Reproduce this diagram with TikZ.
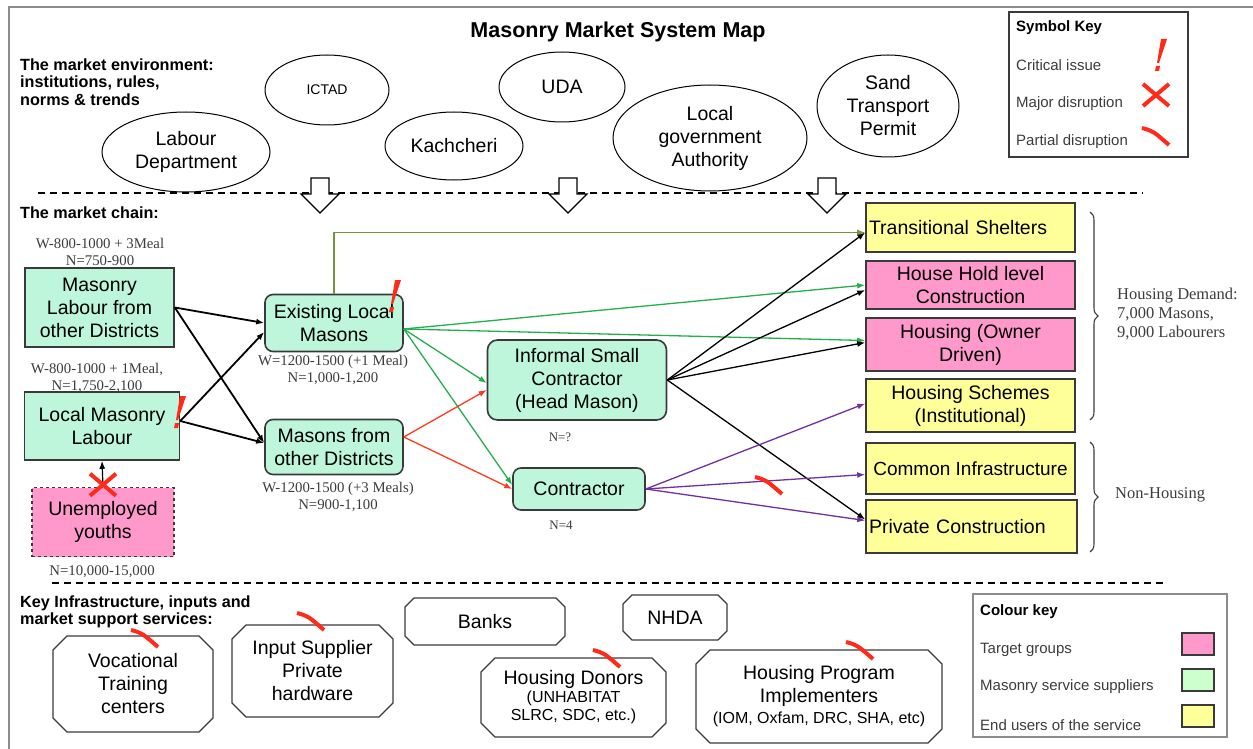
\documentclass[tikz,border=0pt]{standalone}
\usepackage{fontspec}
\setmainfont{Liberation Sans}
\newfontfamily\notefont{Liberation Serif}
\usetikzlibrary{positioning,arrows.meta,shapes.geometric,shapes.misc,decorations.pathreplacing}

\definecolor{mint}{HTML}{BDF6DB}
\definecolor{keymint}{HTML}{CCFFCC}
\definecolor{pinkfill}{HTML}{FF99CC}
\definecolor{yellowfill}{HTML}{FFFF99}
\definecolor{boxline}{HTML}{3A3A3A}
\definecolor{framegray}{HTML}{8C8C8C}
\definecolor{olive}{HTML}{77933C}
\definecolor{flowgreen}{HTML}{22B04C}
\definecolor{flowred}{HTML}{FF3B1F}
\definecolor{flowpurple}{HTML}{7030A0}
\definecolor{alertred}{HTML}{FF2A1A}
\definecolor{notegray}{HTML}{3C3C3C}

\begin{document}
\begin{tikzpicture}[x=1pt, y=-1pt,
    font=\fontsize{19.5}{23}\selectfont,
    sechead/.style={font=\bfseries\fontsize{16.2}{17.5}\selectfont, align=left, inner sep=0pt, anchor=west},
    institution/.style={draw, ellipse, line width=1pt, align=center, inner sep=0pt},
    supplier/.style={draw=boxline, line width=1.6pt, fill=mint, align=center, inner sep=2pt},
    target/.style={draw=boxline, line width=1.6pt, fill=pinkfill, align=center, inner sep=2pt},
    enduser/.style={draw=boxline, line width=1.6pt, fill=yellowfill, align=center, inner sep=3pt, minimum width=209},
    service/.style={draw=boxline, line width=1.1pt, chamfered rectangle, chamfered rectangle xsep=6pt, chamfered rectangle ysep=8pt, align=center, inner sep=1pt},
    smallservice/.style={service, chamfered rectangle xsep=4pt, chamfered rectangle ysep=5pt},
    note/.style={font=\notefont\fontsize{14.8}{17}\selectfont, text=notegray, align=center, inner sep=0pt},
    keytext/.style={font=\fontsize{15}{18}\selectfont, text=notegray, anchor=west, inner sep=0pt},
    flow/.style={-{Latex[length=8pt, width=6pt]}, line width=1.3pt},
    downarrow/.pic={\draw[fill=white, line width=1.1pt] (-9,0) -- (9,0) -- (9,16) -- (19,16) -- (0,35) -- (-19,16) -- (-9,16) -- cycle;},
    critical/.pic={\fill[alertred] (1,0) -- (7,0) -- (-1,24) -- (-3,24) -- cycle;
                   \fill[alertred] (-4,27) -- (0,27) -- (-1,32) -- (-5,32) -- cycle;},
    majormark/.pic={\draw[alertred, line width=4pt] (-13,-11) -- (13,11) (-13,11) -- (13,-11);},
    partialmark/.pic={\draw[alertred, line width=4pt] (-14,-8) .. controls (-3,-5) .. (13,9);}
]
\useasboundingbox (0,0) rectangle (1253,749);
\clip (0,0) rectangle (1253,749);
\draw[framegray, line width=1.5pt] (9,7) rectangle (1275,775);

% market environment
\node[font=\bfseries\fontsize{21.5}{24}\selectfont] (title) at (618,32) {Masonry Market System Map};
\node[sechead] (envhead) at (20,82) {The market environment:\\institutions, rules,\\norms \& trends};

\node[institution, minimum width=168, minimum height=80] (labour) at (186,152) {Labour\\Department};
\node[institution, minimum width=124, minimum height=70, font=\fontsize{14}{16}\selectfont] (ictad) at (327,90) {ICTAD};
\node[institution, minimum width=138, minimum height=68] (kach) at (454,146) {Kachcheri};
\node[institution, minimum width=126, minimum height=70] (uda) at (562,87) {UDA};
\node[institution, minimum width=194, minimum height=106] (lga) at (710,138) {Local\\government\\Authority};
\node[institution, minimum width=142, minimum height=102] (sand) at (888,106) {Sand\\Transport\\Permit};

% symbol key
\draw[boxline, line width=1.3pt] (1009,12) rectangle (1188,157);
\node[keytext, font=\bfseries\fontsize{15}{18}\selectfont, text=black] (symhead) at (1016,28) {Symbol Key};
\node[keytext] (symcrit) at (1016,65) {Critical issue};
\node[keytext] (symmajor) at (1016,104) {Major disruption};
\node[keytext] (sympart) at (1016,142) {Partial disruption};
\pic at (1160,39) {critical};
\pic at (1156,95) {majormark};
\pic at (1156,136) {partialmark};

\draw[line width=1.2pt, dash pattern=on 7pt off 5pt] (38,193) -- (1143,193);
\pic at (320,178) {downarrow};
\pic at (568,178) {downarrow};
\pic at (827,178) {downarrow};

% market chain
\node[sechead] (chainhead) at (20,213) {The market chain:};

\node[supplier, minimum width=149, minimum height=79] (mlod) at (99.5,307.5) {Masonry\\Labour from\\other Districts};
\node[supplier, minimum width=155, minimum height=68] (lml) at (102,426) {Local Masonry\\Labour};
\node[target, dashed, minimum width=142, minimum height=69] (youth) at (103,522) {Unemployed\\youths};
\node[supplier, rounded corners=8pt, minimum width=138, minimum height=57] (exist) at (334,323) {Existing Local\\Masons};
\node[supplier, rounded corners=8pt, minimum width=138, minimum height=55] (mfod) at (334,447) {Masons from\\other Districts};
\node[supplier, rounded corners=10pt, minimum width=179, minimum height=80] (isc) at (577,380) {Informal Small\\Contractor\\(Head Mason)};
\node[supplier, rounded corners=8pt, minimum width=132, minimum height=42] (contr) at (579,489) {Contractor};

\node[note] (mlodnote) at (100,252) {W-800-1000 + 3Meal\\N=750-900};
\node[note] (lmlnote) at (97,378) {W-800-1000 + 1Meal,\\N=1,750-2,100};
\node[note] (youthnote) at (102,572) {N=10,000-15,000};
\node[note] (existnote) at (333,370) {W=1200-1500 (+1 Meal)\\N=1,000-1,200};
\node[note] (mfodnote) at (338,497) {W-1200-1500 (+3 Meals)\\N=900-1,100};
\node[note, font=\notefont\fontsize{13}{15}\selectfont] (iscnote) at (560,437) {N=?};
\node[note, font=\notefont\fontsize{13}{15}\selectfont] (contrnote) at (561,525) {N=4};

\node[enduser, minimum height=49, text width=203, align=left] (ts) at (970.5,227.5) {Transitional Shelters};
\node[enduser, fill=pinkfill, minimum height=48] (hh) at (970.5,285) {House Hold level\\Construction};
\node[enduser, fill=pinkfill, minimum height=53] (own) at (970.5,344.5) {Housing (Owner\\Driven)};
\node[enduser, minimum height=53] (hs) at (970.5,405.5) {Housing Schemes\\(Institutional)};
\node[enduser, minimum height=51, inner sep=1pt, font=\fontsize{19}{23}\selectfont] (ci) at (970.5,468.5) {Common Infrastructure};
\node[enduser, minimum width=211, minimum height=53, text width=205, align=left] (priv) at (971.5,526.5) {Private Construction};

\draw[decorate, decoration={brace, amplitude=8pt}, notegray, line width=1.1pt] (1090,212) -- (1090,420);
\draw[decorate, decoration={brace, amplitude=8pt}, notegray, line width=1.1pt] (1090,442) -- (1090,552);
\node[note, font=\notefont\fontsize{16.5}{19}\selectfont, align=left, anchor=west] (demand) at (1117,314) {Housing Demand:\\7,000 Masons,\\9,000 Labourers};
\node[note, font=\notefont\fontsize{16.5}{19}\selectfont, anchor=west] (nonhousing) at (1115,495) {Non-Housing};

% flows between the actors
\draw[flow, olive] (exist.north) |- ([yshift=-5pt]ts.west);
\draw[flow, line width=1.8pt] (mlod.east) -- (exist.west);
\draw[flow, line width=1.8pt] (mlod.east) -- ([yshift=4pt]mfod.west);
\draw[flow, line width=1.8pt] ([yshift=5pt]lml.east) -- ([yshift=-9pt]exist.west);
\draw[flow, line width=1.8pt] ([yshift=5pt]lml.east) -- ([yshift=4pt]mfod.west);
\draw[flow, line width=1.2pt] (youth.north) -- (lml.south);

\coordinate (existout) at ([yshift=-6pt]exist.east);
\draw[flow, flowgreen] (existout) -- (hh.west);
\draw[flow, flowgreen] (existout) -- ([yshift=4pt]own.west);
\draw[flow, flowgreen] (existout) -- ([yshift=-3pt]isc.west);
\draw[flow, flowgreen] (existout) -- ([yshift=4pt]contr.west);

\coordinate (mfodout) at ([yshift=10pt]mfod.east);
\draw[flow, flowred] (mfodout) -- ([yshift=-10pt]isc.west);
\draw[flow, flowred] (mfodout) -- (contr.west);

\draw[flow] (isc.east) -- ([yshift=-5pt]ts.west);
\draw[flow] (isc.east) -- ([yshift=-5pt]hh.west);
\draw[flow] (isc.east) -- ([yshift=2pt]own.west);
\draw[flow] (isc.east) -- ([yshift=7pt]priv.west);

\draw[flow, flowpurple] (contr.east) -- ([yshift=2pt]hs.west);
\draw[flow, flowpurple] (contr.east) -- ([yshift=-6pt]ci.west);
\draw[flow, flowpurple] (contr.east) -- ([yshift=6pt]priv.west);

\pic at (394,280) {critical};
\pic at (179,396) {critical};
\pic at ([yshift=2pt]youth.north) {majormark};
\pic at (769,485) {partialmark};

% support services
\draw[line width=1.2pt, dash pattern=on 7pt off 5pt] (52,583) -- (1167,583);
\node[sechead] (infrahead) at (20,612) {Key Infrastructure, inputs and\\market support services:};

\node[service, minimum width=160, minimum height=96] (voc) at (133,684) {Vocational\\Training\\centers};
\node[service, minimum width=161, minimum height=92] (inp) at (312.5,671) {Input Supplier\\Private\\hardware};
\node[smallservice, minimum width=160, minimum height=47] (banks) at (485,621.5) {Banks};
\node[smallservice, minimum width=104, minimum height=45] (nhda) at (675,617.5) {NHDA};
\node[service, minimum width=185, minimum height=79] (donors) at (573.5,697.5) {Housing Donors\\[-5pt]{\fontsize{16}{18}\selectfont (UNHABITAT}\\[-5pt]{\fontsize{16}{18}\selectfont SLRC, SDC, etc.)}};
\node[service, minimum width=246, minimum height=93] (impl) at (819,696.5) {Housing Program\\Implementers\\[-2pt]{\fontsize{16}{18}\selectfont (IOM, Oxfam, DRC, SHA, etc)}};
\pic at (145,638) {partialmark};
\pic at (311,621) {partialmark};
\pic at (607,658) {partialmark};
\pic at (860,650) {partialmark};

% colour key
\draw[framegray, line width=1.3pt] (973,594) rectangle (1227,737);
\node[keytext, font=\bfseries\fontsize{15}{18}\selectfont, text=black] (colhead) at (980,612) {Colour key};
\node[keytext] (coltarget) at (980,650) {Target groups};
\node[keytext] (colsupplier) at (980,687) {Masonry service suppliers};
\node[keytext] (coluser) at (980,725) {End users of the service};
\draw[boxline, line width=1.2pt, fill=pinkfill] (1182,633) rectangle (1214,655);
\draw[boxline, line width=1.2pt, fill=keymint] (1182,669) rectangle (1214,691);
\draw[boxline, line width=1.2pt, fill=yellowfill] (1182,705) rectangle (1214,727);
\end{tikzpicture}
\end{document}
